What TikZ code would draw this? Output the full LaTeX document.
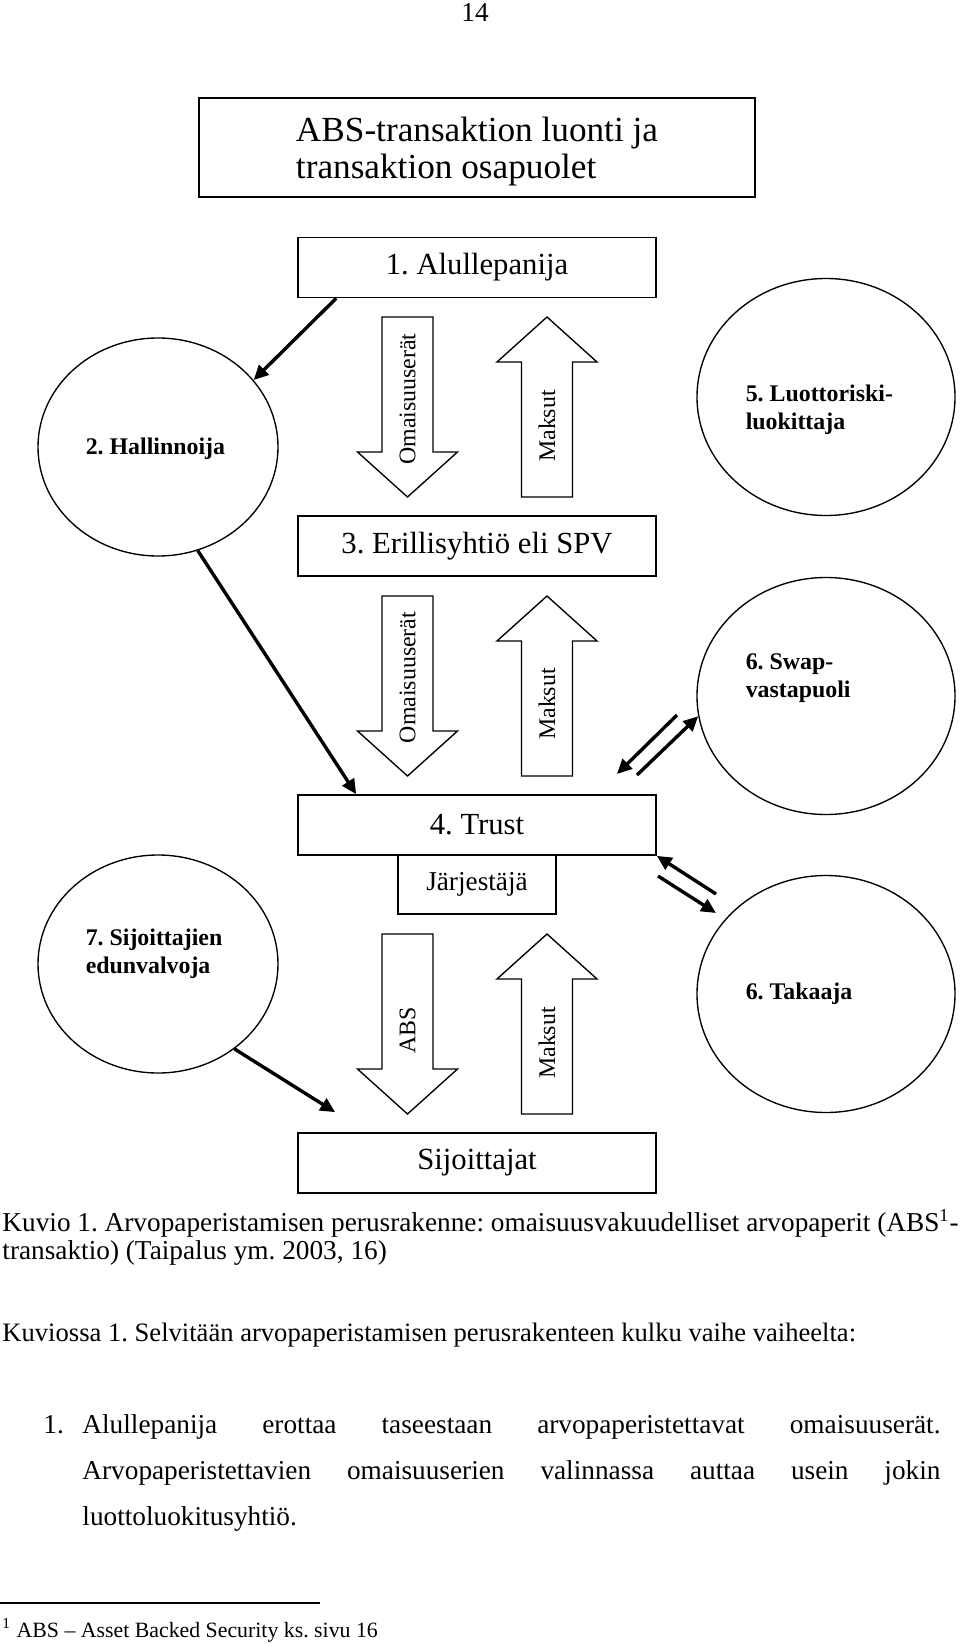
\documentclass[tikz,border=0pt]{standalone}
\usepackage{fontspec}
\setmainfont{Liberation Serif}
\usepackage{tikz}
\usetikzlibrary{shapes.geometric,arrows.meta}

\newlength{\pxl}
\setlength{\pxl}{0.44pt}

\tikzset{
  laatikko/.style={draw, line width=0.75pt, minimum width=358\pxl, minimum height=60\pxl,
    inner sep=0pt, font=\fontsize{13.5}{15}\selectfont},
  pallo/.style={draw, ellipse, line width=0.6pt, inner sep=0pt},
  pallot/.style={font=\fontsize{10.5}{12.5}\selectfont\bfseries, align=left, anchor=west,
    inner sep=0pt},
  teksti/.style={font=\fontsize{12}{14}\selectfont, anchor=base west, inner sep=0pt},
  nuoli/.style={-{Triangle[length=6.5pt,width=6pt]}, line width=1.5pt},
  fat/.style={draw, fill=white, line width=0.6pt},
  fatteksti/.style={rotate=90, font=\fontsize{10.5}{12}\selectfont, inner sep=0pt},
  fatdown/.pic={\draw[fat] (-25.5,0) -- (25.5,0) -- (25.5,135) -- (50,135) -- (0,180)
    -- (-50,135) -- (-25.5,135) -- cycle;},
  fatup/.pic={\draw[fat] (0,0) -- (50,45) -- (25.5,45) -- (25.5,180) -- (-25.5,180)
    -- (-25.5,45) -- (-50,45) -- cycle;}
}

\begin{document}
\frenchspacing
\begin{tikzpicture}[x=\pxl, y=-\pxl]
  \fill[white] (0,0) rectangle (960,1644);
  \useasboundingbox (0,0) rectangle (960,1644);

  \node[teksti] (sivu) at (461,22) {14};

  % otsikko
  \node[draw, line width=1.1pt, minimum width=556\pxl, minimum height=99\pxl] (otsikko)
    at (477,147.5) {};
  \node[font=\fontsize{15.5}{16.5}\selectfont, align=left, inner sep=0pt] (otsikkoteksti)
    at (477,151.5) {ABS-transaktion luonti ja\\transaktion osapuolet};

  % keskimmaiset laatikot
  \node[laatikko] (alku) at (477,267.5) {1. Alullepanija};
  \node[laatikko, below of=alku, node distance=278.5\pxl] (spv) {3. Erillisyhtiö eli SPV};
  \node[laatikko, below of=spv, node distance=279\pxl] (trust) {4. Trust};
  \node[laatikko, minimum width=158\pxl, minimum height=59\pxl, font=\fontsize{12}{14}\selectfont,
    below of=trust, node distance=59.5\pxl] (jarj) {Järjestäjä};
  \node[laatikko, below of=jarj, node distance=278.5\pxl] (sij) {Sijoittajat};

  % pallot
  \node[pallo, minimum width=240\pxl, minimum height=218\pxl] (hall) at (158,447) {};
  \node[pallo, minimum width=240\pxl, minimum height=218\pxl, below of=hall,
    node distance=517\pxl] (edun) {};
  \node[pallo, minimum width=258\pxl, minimum height=237\pxl] (luott) at (826,397) {};
  \node[pallo, minimum width=258\pxl, minimum height=237\pxl, below of=luott,
    node distance=299\pxl] (swap) {};
  \node[pallo, minimum width=258\pxl, minimum height=237\pxl, below of=swap,
    node distance=298\pxl] (taka) {};

  \node[pallot] (hallt) at ([xshift=48\pxl,yshift=-2\pxl]hall.west) {2. Hallinnoija};
  \node[pallot] (edunt) at ([xshift=48\pxl,yshift=10\pxl]edun.west) {7. Sijoittajien\\edunvalvoja};
  \node[pallot] (luottt) at ([xshift=49\pxl,yshift=-13\pxl]luott.west) {5. Luottoriski-\\luokittaja};
  \node[pallot] (swapt) at ([xshift=49\pxl,yshift=18\pxl]swap.west) {6. Swap-\\vastapuoli};
  \node[pallot] (takat) at ([xshift=49\pxl]taka.west) {6. Takaaja};

  % paksut nuolet
  \pic at (407.5,317) {fatdown};
  \pic at (547,317) {fatup};
  \node[fatteksti] (om1) at (407.5,399) {Omaisuuserät};
  \node[fatteksti] (ma1) at (547,426) {Maksut};

  \pic at (407.5,596) {fatdown};
  \pic at (547,596) {fatup};
  \node[fatteksti] (om2) at (407.5,677.5) {Omaisuuserät};
  \node[fatteksti] (ma2) at (547,704) {Maksut};

  \pic at (407.5,934) {fatdown};
  \pic at (547,934) {fatup};
  \node[fatteksti] (abs) at (407.5,1030.5) {ABS};
  \node[fatteksti] (ma3) at (547,1043) {Maksut};

  % ohuet nuolet
  \coordinate (sw1) at (677,715);
  \coordinate (sw1k) at (617,774);
  \coordinate (sw2) at (637,775);
  \coordinate (ta1) at (716,894);
  \coordinate (ta2) at (658,876);
  \coordinate (ta2k) at (716,913);
  \draw[nuoli] ([xshift=39\pxl]alku.south west) -- (hall.35);
  \draw[nuoli] (hall.-69) -- ([xshift=59\pxl]trust.north west);
  \draw[nuoli] (sw1) -- (sw1k);
  \draw[nuoli] (sw2) -- (swap.189);
  \draw[nuoli] (ta1) -- (trust.south east);
  \draw[nuoli] (ta2) -- (ta2k);
  \draw[nuoli] (edun.-48) -- ([xshift=38\pxl,yshift=20\pxl]sij.north west);

  % teksti kuvion alla
  \node[teksti] (kuvio1) at (2,1231)
    {Kuvio 1. Arvopaperistamisen perusrakenne: omaisuusvakuudelliset arvopaperit (ABS\textsuperscript{1}-};
  \node[teksti] (kuvio2) at (2,1259) {transaktio) (Taipalus ym. 2003, 16)};
  \node[teksti, font=\fontsize{11.7}{14}\selectfont] (selitys) at (2,1341)
    {Kuviossa 1. Selvitään arvopaperistamisen perusrakenteen kulku vaihe vaiheelta:};
  \node[teksti] (kohta) at (43,1433) {1.};
  \node[teksti] (rivi1) at (82,1433)
    {\makebox[858\pxl][s]{Alullepanija erottaa taseestaan arvopaperistettavat omaisuuserät.}};
  \node[teksti] (rivi2) at (82,1479)
    {\makebox[858\pxl][s]{Arvopaperistettavien omaisuuserien valinnassa auttaa usein jokin}};
  \node[teksti] (rivi3) at (82,1525) {luottoluokitusyhtiö.};

  % alaviite
  \coordinate (viiva1) at (0,1603);
  \coordinate (viiva2) at (320,1603);
  \draw[line width=0.6pt] (viiva1) -- (viiva2);
  \node[teksti, font=\fontsize{9.6}{12}\selectfont] (alaviite) at (2,1637)
    {\textsuperscript{1} ABS – Asset Backed Security ks. sivu 16};
\end{tikzpicture}
\end{document}
